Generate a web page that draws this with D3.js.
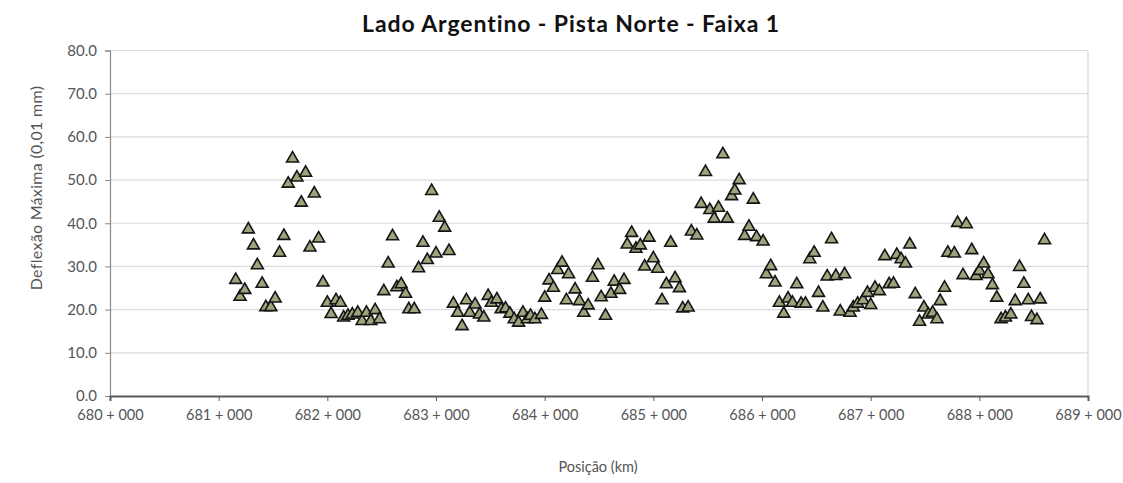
<!DOCTYPE html>
<html>
<head>
<meta charset="utf-8">
<style>
  body { margin: 0; background: #fff; }
  text { font-family: Lato, "Open Sans", sans-serif; }
</style>
</head>
<body>
<script src="https://d3js.org/d3.v7.min.js"></script>
<script>

// positions (km) and max deflection (0,01 mm)
var posicao = [
  681.157, 681.197, 681.24, 681.273, 681.32, 681.356, 681.40, 681.434, 681.48, 681.52,
  681.56, 681.60, 681.64, 681.68, 681.72, 681.76, 681.80, 681.84, 681.88, 681.92,
  681.96, 682.00, 682.035, 682.08, 682.12, 682.15, 682.19, 682.23, 682.28, 682.32,
  682.36, 682.40, 682.44, 682.48, 682.52, 682.56, 682.60, 682.64, 682.68, 682.72,
  682.75, 682.80, 682.84, 682.88, 682.92, 682.96, 683.00, 683.03, 683.08, 683.12,
  683.16, 683.20, 683.24, 683.28, 683.31, 683.36, 683.40, 683.44, 683.48, 683.51,
  683.56, 683.60, 683.64, 683.68, 683.72, 683.76, 683.80, 683.84, 683.87, 683.91,
  683.97, 684.00, 684.04, 684.08, 684.12, 684.16, 684.20, 684.22, 684.28, 684.32,
  684.36, 684.40, 684.44, 684.49, 684.52, 684.56, 684.61, 684.64, 684.69, 684.73,
  684.76, 684.80, 684.84, 684.88, 684.92, 684.96, 685.00, 685.04, 685.08, 685.12,
  685.16, 685.20, 685.24, 685.27, 685.32, 685.35, 685.40, 685.44, 685.48, 685.52,
  685.56, 685.60, 685.64, 685.68, 685.72, 685.75, 685.79, 685.84, 685.88, 685.92,
  685.95, 686.01, 686.04, 686.08, 686.12, 686.16, 686.20, 686.24, 686.28, 686.32,
  686.36, 686.40, 686.44, 686.48, 686.52, 686.56, 686.60, 686.64, 686.68, 686.72,
  686.76, 686.81, 686.84, 686.88, 686.93, 686.97, 687.00, 687.04, 687.08, 687.13,
  687.17, 687.21, 687.24, 687.28, 687.32, 687.36, 687.41, 687.45, 687.49, 687.53,
  687.57, 687.61, 687.64, 687.68, 687.71, 687.77, 687.80, 687.85, 687.88, 687.93,
  687.97, 688.00, 688.04, 688.08, 688.12, 688.16, 688.20, 688.24, 688.29, 688.33,
  688.37, 688.41, 688.45, 688.48, 688.53, 688.56, 688.60
];
var deflexao = [
  27.1, 23.2, 24.8, 38.8, 35.1, 30.5, 26.2, 20.8, 20.8, 22.8,
  33.4, 37.3, 49.4, 55.2, 50.8, 45.0, 51.9, 34.6, 47.1, 36.7,
  26.5, 21.8, 19.2, 22.4, 21.8, 18.4, 18.8, 19.1, 19.5, 17.6,
  19.5, 17.6, 20.1, 18.0, 24.5, 30.9, 37.2, 25.4, 26.1, 23.9,
  20.3, 20.3, 29.8, 35.7, 31.7, 47.7, 33.2, 41.5, 39.2, 33.8,
  21.6, 19.5, 16.4, 22.4, 19.5, 21.4, 19.1, 18.4, 23.4, 21.8,
  22.6, 20.3, 20.5, 19.3, 18.0, 17.2, 19.5, 18.0, 18.8, 18.0,
  19.0, 23.0, 27.0, 25.3, 29.4, 31.1, 22.4, 28.4, 24.9, 22.2,
  19.5, 21.2, 27.6, 30.5, 23.1, 18.8, 23.9, 26.7, 24.8, 27.1,
  35.3, 38.0, 34.3, 35.1, 30.2, 36.9, 32.1, 29.7, 22.4, 26.1,
  35.7, 27.5, 25.2, 20.5, 20.7, 38.3, 37.4, 44.7, 52.1, 43.3,
  41.3, 43.8, 56.2, 41.3, 46.5, 47.8, 50.2, 37.3, 39.4, 45.7,
  37.0, 36.0, 28.4, 30.3, 26.5, 21.8, 19.3, 22.8, 21.8, 26.1,
  21.6, 21.6, 31.9, 33.4, 24.1, 20.7, 27.9, 36.5, 28.0, 19.8,
  28.4, 19.5, 20.7, 21.6, 22.4, 24.1, 21.3, 25.3, 24.5, 32.6,
  26.1, 26.2, 32.9, 31.9, 30.9, 35.3, 23.8, 17.4, 20.7, 19.1,
  19.5, 18.0, 22.2, 25.3, 33.4, 33.2, 40.3, 28.2, 40.0, 34.0,
  28.0, 29.2, 30.9, 28.4, 25.9, 23.0, 18.0, 18.4, 19.1, 22.2,
  30.1, 26.2, 22.4, 18.5, 17.8, 22.6, 36.3
];

var xTicks = [680, 681, 682, 683, 684, 685, 686, 687, 688, 689];
var yTicks = [0, 10, 20, 30, 40, 50, 60, 70, 80];

var titulo = 'Lado Argentino - Pista Norte - Faixa 1',
    tituloY = 'Deflexão Máxima (0,01 mm)',
    tituloX = 'Posição (km)';

var width = 1123,
    height = 483;

var plotLeft = 110,
    plotRight = 1088,
    plotTop = 50.5,
    plotBottom = 396;

var svg = d3.select('body').append('svg')
    .attr('width', width)
    .attr('height', height);

var x = d3.scaleLinear().domain([680, 689]).range([plotLeft, plotRight]);
var y = d3.scaleLinear().domain([0, 80]).range([plotBottom, plotTop]);

// gridlines
svg.append('g')
  .selectAll('line')
  .data(yTicks.filter(function(d) { return d > 0; }))
  .enter().append('line')
    .attr('x1', plotLeft)
    .attr('x2', plotRight)
    .attr('y1', function(d) { return y(d); })
    .attr('y2', function(d) { return y(d); })
    .attr('stroke', '#dcdcdc')
    .attr('stroke-width', 1.2);

// right border of plot
svg.append('line')
    .attr('x1', plotRight).attr('x2', plotRight)
    .attr('y1', plotTop).attr('y2', plotBottom)
    .attr('stroke', '#d6d6d6')
    .attr('stroke-width', 1.2);

// y axis
var yAxis = svg.append('g')
    .attr('transform', 'translate(' + plotLeft + ',0)')
    .call(d3.axisLeft(y).tickValues(yTicks).tickSize(5).tickPadding(8)
      .tickFormat(function(d) { return d3.format('.1f')(d); }));
yAxis.select('.domain').attr('stroke', '#8a8a8a').attr('stroke-width', 1.2);
yAxis.selectAll('.tick line').attr('stroke', '#8a8a8a');
yAxis.selectAll('.tick text')
    .attr('fill', '#555')
    .style('font-size', '15px');

// x axis
var xAxis = svg.append('g')
    .attr('transform', 'translate(0,' + plotBottom + ')')
    .call(d3.axisBottom(x).tickValues(xTicks).tickSize(5).tickPadding(9)
      .tickFormat(function(d) { return d + ' + 000'; }));
xAxis.select('.domain').attr('stroke', '#5a5a5a').attr('stroke-width', 2);
xAxis.selectAll('.tick line').attr('stroke', '#5a5a5a');
xAxis.selectAll('.tick text')
    .attr('fill', '#555')
    .style('font-size', '14.5px');

// points
var pontos = posicao.map(function(p, i) { return [p, deflexao[i]]; });
var triangle = d3.symbol().type(d3.symbolTriangle).size(62);

svg.append('g')
  .selectAll('path')
  .data(pontos)
  .enter().append('path')
    .attr('d', triangle)
    .attr('transform', function(d) { return 'translate(' + x(d[0]) + ',' + (y(d[1]) + 1) + ')'; })
    .attr('fill', '#9ba57b')
    .attr('stroke', '#151515')
    .attr('stroke-width', 1.6)
    .attr('stroke-linejoin', 'miter');

// titles
svg.append('text')
    .attr('x', 571)
    .attr('y', 32)
    .attr('text-anchor', 'middle')
    .style('font-size', '23px')
    .style('font-weight', 'bold')
    .style('letter-spacing', '0.9px')
    .attr('fill', '#111')
    .text(titulo);

svg.append('text')
    .attr('transform', 'translate(42,188) rotate(-90)')
    .attr('text-anchor', 'middle')
    .style('font-size', '16px')
    .style('letter-spacing', '0.3px')
    .attr('fill', '#555')
    .text(tituloY);

svg.append('text')
    .attr('x', 598)
    .attr('y', 472)
    .attr('text-anchor', 'middle')
    .style('font-size', '14.5px')
    .attr('fill', '#555')
    .text(tituloX);

</script>
</body>
</html>
